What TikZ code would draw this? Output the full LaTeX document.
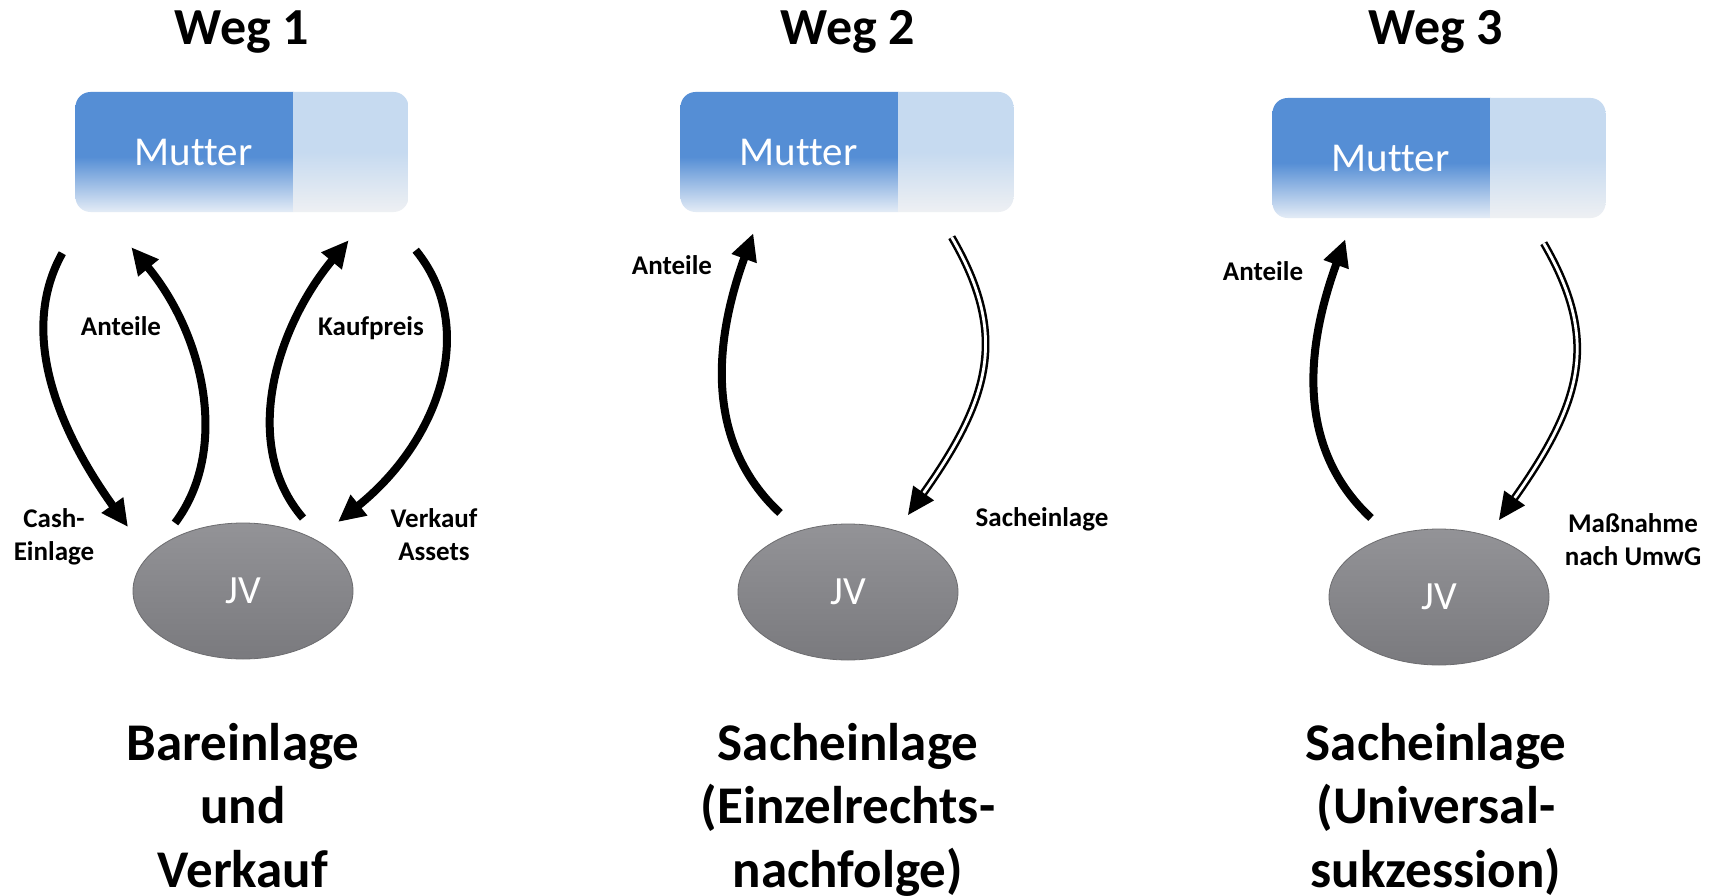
\documentclass[tikz,border=0pt]{standalone}
\usepackage{fontspec}
\setmainfont{Carlito}[Ligatures=NoCommon]
\usetikzlibrary{arrows.meta, shapes.geometric}
\definecolor{mblue}{HTML}{558ED5}
\definecolor{mfade}{HTML}{E4ECF6}
\definecolor{mpale}{HTML}{C6DAF0}
\definecolor{mmist}{HTML}{EEF0F3}
\definecolor{jvtop}{HTML}{939397}
\definecolor{jvbot}{HTML}{7A7A7E}
\definecolor{jvrim}{HTML}{6C6C6F}
\pgfdeclareverticalshading{mutdark}{100bp}{color(0bp)=(mfade); color(25bp)=(mfade); color(48bp)=(mblue); color(100bp)=(mblue)}
\pgfdeclareverticalshading{mutlight}{100bp}{color(0bp)=(mmist); color(25bp)=(mmist); color(50bp)=(mpale); color(100bp)=(mpale)}
\tikzset{
  mutterbox/.style={rounded corners=15pt, minimum height=120pt, inner sep=0pt,
    text=white, font=\fontsize{41}{49}\selectfont,
    path picture={
      \shade[sharp corners, shading=mutdark] (path picture bounding box.south west)
        rectangle ([xshift=218pt]path picture bounding box.north west);
      \shade[sharp corners, shading=mutlight] ([xshift=218pt]path picture bounding box.south west)
        rectangle (path picture bounding box.north east);
    }},
  jvnode/.style={ellipse, minimum width=220pt, minimum height=136pt, inner sep=0pt,
    top color=jvtop, bottom color=jvbot, draw=jvrim, line width=0.8pt,
    text=white, font=\fontsize{40}{48}\selectfont},
  wegtitle/.style={anchor=base, font=\fontsize{52}{63}\selectfont\bfseries},
  pathtitle/.style={anchor=base, align=center, font=\fontsize{53}{63.5}\selectfont\bfseries},
  lbl/.style={anchor=base, align=center, font=\fontsize{27}{33}\selectfont\bfseries},
  fatarr/.style={-{Triangle[length=27pt,width=25pt]}, line width=8pt},
  dblarr/.style={-{Triangle[length=27pt,width=25pt]}, line width=2.5pt, double, double distance=2.8pt},
}
\newcommand{\muttertext}{\makebox[236pt]{Mutter}\makebox[97pt]{}}
\begin{document}
\begin{tikzpicture}[x=1pt, y=-1pt]
  \useasboundingbox (0,0) rectangle (1715,896);
  \fill[white] (0,0) rectangle (1715,896);

  % Weg 1
  \node[wegtitle] (weg1) at (242,45) {Weg 1};
  \node[mutterbox] (mut1) at (242,152) {\muttertext};
  \node[jvnode] (jv1) at (243,591) {JV};
  \draw[fatarr] ([shift={(-13,41)}]mut1.south west) .. controls +(-43,77) and +(-73,-102) .. ([shift={(-115,-64)}]jv1.center);
  \draw[fatarr] ([shift={(-68,-68)}]jv1.center) .. controls +(55,-73) and +(73,88) .. ([shift={(56,35)}]mut1.south west);
  \draw[fatarr] ([shift={(60,-73)}]jv1.center) .. controls +(-63,-73) and +(-73,88) .. ([shift={(-60,28)}]mut1.south east);
  \draw[fatarr] ([shift={(7,38)}]mut1.south east) .. controls +(63,77) and +(102,-82) .. ([shift={(95,-69)}]jv1.center);
  \node[lbl] (lanteile1) at (121,335) {Anteile};
  \node[lbl] (lkauf) at (371,335) {Kaufpreis};
  \node[lbl] (lcash) at (54,560) {Cash-\\Einlage};
  \node[lbl] (lverk) at (434,560) {Verkauf\\Assets};
  \node[pathtitle] (res1) at (243,887) {Bareinlage\\und\\Verkauf};

  % Weg 2
  \node[wegtitle] (weg2) at (848,45) {Weg 2};
  \node[mutterbox] (mut2) at (847,152) {\muttertext};
  \node[jvnode] (jv2) at (848,592) {JV};
  \node[lbl] (lanteile2) at (672,274) {Anteile};
  \node[lbl] (lsach) at (1042,526) {Sacheinlage};
  \node[pathtitle] (res2) at (848,887) {Sacheinlage\\(Einzelrechts-\\nachfolge)};

  % Weg 3
  \node[wegtitle] (weg3) at (1436,45) {Weg 3};
  \node[mutterbox] (mut3) at (1439,158) {\muttertext};
  \node[jvnode] (jv3) at (1439,597) {JV};
  \node[lbl] (lanteile3) at (1263,280) {Anteile};
  \node[lbl] (lumwg) at (1633,565) {Maßnahme\\nach UmwG};
  \node[pathtitle] (res3) at (1436,887) {Sacheinlage\\(Universal-\\sukzession)};

  % Anteile hoch, Sacheinlage runter
  \foreach \i in {2,3}{
    \draw[fatarr] ([shift={(-68,-79)}]jv\i.center) .. controls +(-75,-70) and +(-40,110) .. ([shift={(73,21)}]mut\i.south west);
    \draw[dblarr] ([shift={(-62,25)}]mut\i.south east) .. controls +(55,95) and +(85,-120) .. ([shift={(60,-77)}]jv\i.center);
  }
\end{tikzpicture}
\end{document}
